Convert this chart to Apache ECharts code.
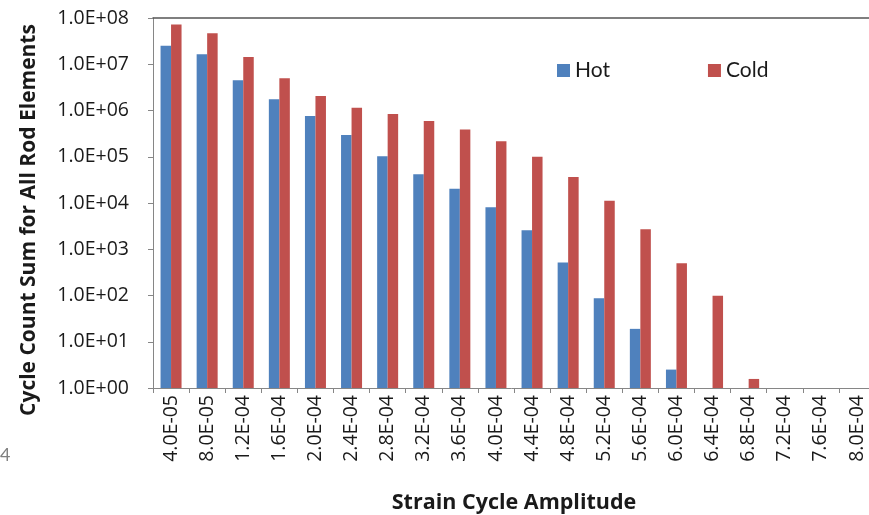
<!DOCTYPE html>
<html>
<head>
<meta charset="utf-8">
<script src="https://cdn.jsdelivr.net/npm/echarts@6/dist/echarts.min.js"></script>
<style>
html,body{margin:0;padding:0;background:#fff;}
#chart{width:869px;height:515px;}
</style>
</head>
<body>
<div id="chart"></div>
<script>
var categories = ['4.0E-05','8.0E-05','1.2E-04','1.6E-04','2.0E-04','2.4E-04','2.8E-04','3.2E-04','3.6E-04','4.0E-04',
                  '4.4E-04','4.8E-04','5.2E-04','5.6E-04','6.0E-04','6.4E-04','6.8E-04','7.2E-04','7.6E-04','8.0E-04'];
var hotValues = [2.5e7, 1.65e7, 4.5e6, 1.75e6, 7.6e5, 2.95e5, 1.02e5, 4.2e4, 2.04e4, 8.1e3,
                 2.57e3, 5.2e2, 87, 19, 2.5, null, null, null, null, null];
var coldValues = [7.2e7, 4.7e7, 1.44e7, 4.97e6, 2.05e6, 1.15e6, 8.4e5, 5.9e5, 3.9e5, 2.16e5,
                  1.0e5, 3.65e4, 1.12e4, 2.7e3, 4.97e2, 99, 1.57, null, null, null];
var yTickLabels = ['1.0E+00','1.0E+01','1.0E+02','1.0E+03','1.0E+04','1.0E+05','1.0E+06','1.0E+07','1.0E+08'];

var FONT = 'Open Sans';
var chart = echarts.init(document.getElementById('chart'));
chart.setOption({
  animation: false,
  backgroundColor: '#ffffff',
  textStyle: { fontFamily: FONT },
  grid: { left: 153, top: 18, width: 722, bottom: 127, containLabel: false, outerBoundsMode: 'none' },
  legend: {
    left: 552, top: 55,
    itemWidth: 13, itemHeight: 13, itemGap: 98,
    icon: 'rect',
    textStyle: { fontFamily: 'Lato', fontSize: 21, color: '#1a1a1a' },
    data: ['Hot', 'Cold']
  },
  xAxis: [{
    type: 'category',
    data: categories,
    boundaryGap: true,
    axisLine: { lineStyle: { color: '#868686', width: 1 } },
    axisTick: { show: true, length: 5, alignWithLabel: false, lineStyle: { color: '#868686' } },
    axisLabel: { rotate: 90, fontSize: 19.5, color: '#1a1a1a', margin: 7, interval: 0 },
    name: 'Strain Cycle Amplitude',
    nameLocation: 'middle',
    nameGap: 104,
    nameTextStyle: { fontFamily: FONT, fontWeight: 'bold', fontSize: 21.5, color: '#1a1a1a' }
  }, {
    type: 'category',
    data: categories,
    position: 'top',
    axisLine: { show: true, lineStyle: { color: '#555555', width: 1.5 } },
    axisTick: { show: false },
    axisLabel: { show: false }
  }],
  yAxis: {
    type: 'log',
    logBase: 10,
    min: 1,
    max: 1e8,
    splitNumber: 8,
    axisLine: { show: true, lineStyle: { color: '#868686', width: 1 } },
    axisTick: { show: true, length: 5, lineStyle: { color: '#868686' } },
    splitLine: { show: false },
    axisLabel: {
      fontSize: 19.5, color: '#1a1a1a', margin: 24,
      formatter: function (v, i) { return yTickLabels[Math.round(Math.log10(v))]; }
    },
    name: 'Cycle Count Sum for All Rod Elements',
    nameLocation: 'middle',
    nameGap: 113,
    nameTextStyle: { fontFamily: FONT, fontWeight: 'bold', fontSize: 21, color: '#1a1a1a', padding: [0, 34, 0, 0] }
  },
  series: [{
    name: 'Hot', type: 'bar', data: hotValues,
    barWidth: 10.5, barGap: '0%',
    itemStyle: { color: '#4F81BD' }
  }, {
    name: 'Cold', type: 'bar', data: coldValues,
    barWidth: 10.5, barGap: '0%',
    itemStyle: { color: '#C0504D' }
  }],
  graphic: [{
    type: 'text', left: 0, top: 446,
    style: { text: '4', fontFamily: 'Lato', fontSize: 18, fill: '#808080' }
  }]
});
</script>
</body>
</html>
